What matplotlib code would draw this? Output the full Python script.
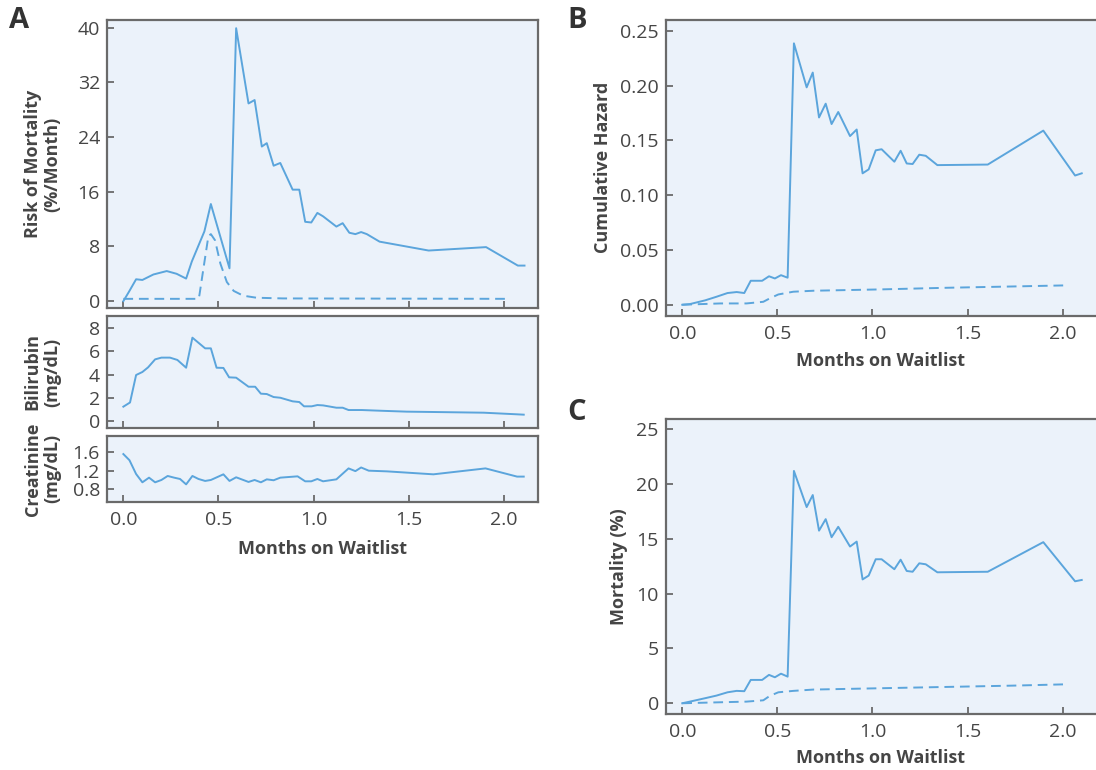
"""Waitlist mortality risk, bilirubin, creatinine, cumulative hazard and mortality."""

import matplotlib

matplotlib.use("Agg")
import matplotlib.pyplot as plt
from matplotlib.ticker import FormatStrFormatter

plt.rcParams["font.family"] = ["Open Sans", "DejaVu Sans"]

LINE = "#5ba5dc"
FACE = "#ebf2fa"
SPINE = "#6a6a6a"
TEXT = "#454545"

# Panel A: risk of mortality (%/month)
risk_x = [0.0, 0.03, 0.067, 0.10, 0.158, 0.228, 0.28, 0.33, 0.36, 0.426, 0.46,
          0.558, 0.593, 0.658, 0.69, 0.728, 0.754, 0.79, 0.825, 0.89, 0.925,
          0.956, 0.988, 1.02, 1.05, 1.12, 1.153, 1.188, 1.22, 1.25, 1.28,
          1.347, 1.605, 1.907, 2.074, 2.109]
risk_y = [0.0, 1.4, 3.2, 3.1, 3.9, 4.4, 4.0, 3.3, 5.8, 10.2, 14.2,
          4.8, 39.9, 28.9, 29.4, 22.6, 23.1, 19.8, 20.2, 16.3, 16.3,
          11.6, 11.5, 12.9, 12.4, 10.9, 11.4, 10.0, 9.8, 10.1, 9.8,
          8.7, 7.4, 7.9, 5.2, 5.2]
risk_ref_x = [0.0, 0.395, 0.40, 0.425, 0.447, 0.46, 0.482, 0.51, 0.544, 0.58,
              0.63, 0.70, 0.84, 2.02]
risk_ref_y = [0.34, 0.34, 0.9, 5.5, 9.5, 9.8, 8.9, 5.5, 2.8, 1.5,
              0.8, 0.5, 0.4, 0.34]

bili_x = [0.0, 0.035, 0.067, 0.10, 0.13, 0.167, 0.20, 0.245, 0.284, 0.33,
          0.363, 0.43, 0.46, 0.49, 0.526, 0.556, 0.593, 0.658, 0.693, 0.723,
          0.754, 0.79, 0.825, 0.89, 0.925, 0.95, 0.99, 1.02, 1.05, 1.12,
          1.153, 1.184, 1.254, 1.35, 1.49, 1.63, 1.895, 2.07, 2.105]
bili_y = [1.24, 1.6, 3.97, 4.23, 4.63, 5.32, 5.47, 5.47, 5.27, 4.6,
          7.19, 6.27, 6.27, 4.6, 4.58, 3.77, 3.74, 2.96, 2.96, 2.36,
          2.33, 2.07, 2.01, 1.70, 1.64, 1.27, 1.27, 1.38, 1.35, 1.15,
          1.15, 0.95, 0.95, 0.89, 0.81, 0.78, 0.72, 0.58, 0.55]

creat_x = [0.0, 0.032, 0.067, 0.10, 0.135, 0.167, 0.20, 0.233, 0.267, 0.298,
           0.33, 0.363, 0.395, 0.43, 0.46, 0.526, 0.558, 0.593, 0.658, 0.69,
           0.723, 0.754, 0.79, 0.825, 0.916, 0.956, 0.988, 1.02, 1.05, 1.12,
           1.184, 1.22, 1.25, 1.29, 1.386, 1.63, 1.904, 2.07, 2.105]
creat_y = [1.564, 1.43, 1.127, 0.945, 1.047, 0.945, 0.996, 1.084, 1.047, 1.018,
           0.90, 1.084, 1.018, 0.975, 0.996, 1.12, 0.975, 1.055, 0.953, 0.996,
           0.945, 1.01, 0.99, 1.047, 1.076, 0.967, 0.967, 1.018, 0.967, 1.01,
           1.25, 1.19, 1.27, 1.2, 1.185, 1.12, 1.25, 1.07, 1.07]

# Panels B and C share time points
bc_x = [0.0, 0.04, 0.12, 0.18, 0.238, 0.286, 0.326, 0.36, 0.42, 0.456,
        0.487, 0.519, 0.554, 0.587, 0.654, 0.686, 0.719, 0.754, 0.785, 0.82,
        0.882, 0.917, 0.948, 0.98, 1.017, 1.048, 1.115, 1.148, 1.18, 1.211,
        1.246, 1.28, 1.341, 1.606, 1.898, 2.065, 2.1]
hazard_y = [0.0, 0.0006, 0.004, 0.0073, 0.0107, 0.0116, 0.0107, 0.0219, 0.0219, 0.026,
            0.024, 0.027, 0.0247, 0.2387, 0.1985, 0.212, 0.171, 0.1836, 0.165, 0.176,
            0.154, 0.160, 0.120, 0.1236, 0.141, 0.142, 0.1306, 0.1406, 0.129, 0.1285,
            0.137, 0.136, 0.1275, 0.128, 0.159, 0.118, 0.120]
mort_y = [0.0, 0.15, 0.46, 0.7, 1.0, 1.13, 1.1, 2.13, 2.13, 2.59,
          2.37, 2.7, 2.43, 21.2, 17.9, 19.0, 15.75, 16.8, 15.15, 16.1,
          14.3, 14.75, 11.3, 11.65, 13.14, 13.14, 12.23, 13.1, 12.07, 12.0,
          12.77, 12.68, 11.95, 12.0, 14.7, 11.13, 11.25]
ref_x = [0.0, 0.2, 0.338, 0.426, 0.46, 0.505, 0.584, 0.69, 1.04, 1.39, 1.74, 2.02]
hazard_ref_y = [0.0, 0.0012, 0.0012, 0.0027, 0.0058, 0.0094, 0.0119, 0.0128,
                0.014, 0.0155, 0.0167, 0.0177]
mort_ref_y = [0.0, 0.09, 0.15, 0.27, 0.67, 1.0, 1.13, 1.25, 1.37, 1.49, 1.61, 1.73]

x_ticks = [0.0, 0.5, 1.0, 1.5, 2.0]

W, H = 1096, 770
DASH = (0, (5, 3))


def px_axes(fig, left, top, right, bottom):
    return fig.add_axes([left / W, 1 - bottom / H, (right - left) / W, (bottom - top) / H])


def style(ax, yticks, ylim, xlim=(-0.086, 2.18), xlabels=True, right=True):
    ax.set_facecolor(FACE)
    for sp in ax.spines.values():
        sp.set_color(SPINE)
        sp.set_linewidth(1.6)
    if not right:
        ax.spines["right"].set_visible(False)
    ax.set_xlim(*xlim)
    ax.set_ylim(*ylim)
    ax.set_xticks(x_ticks)
    ax.set_yticks(yticks)
    ax.xaxis.set_major_formatter(FormatStrFormatter("%.1f"))
    ax.tick_params(direction="in", length=5, width=1.3, color=SPINE,
                   labelsize=14, labelcolor=TEXT, pad=5)
    ax.tick_params(axis="x", pad=6.5)
    if not xlabels:
        ax.tick_params(axis="x", labelbottom=False)


def label_font():
    return dict(fontsize=13, fontweight="bold", color=TEXT)


fig = plt.figure(figsize=(W / 100, H / 100), dpi=100)

# Panel A
ax_risk = px_axes(fig, 107, 20, 538, 308)
ax_risk.plot(risk_x, risk_y, color=LINE, lw=1.4)
ax_risk.plot(risk_ref_x, risk_ref_y, color=LINE, lw=1.4, ls=DASH)
style(ax_risk, [0, 8, 16, 24, 32, 40], (-1.0, 41.1), xlabels=False)
ax_risk.set_ylabel("Risk of Mortality\n(%/Month)", linespacing=1.15, **label_font())
ax_risk.yaxis.set_label_coords(-0.105, 0.5)

ax_bili = px_axes(fig, 107, 316, 538, 428)
ax_bili.plot(bili_x, bili_y, color=LINE, lw=1.4)
style(ax_bili, [0, 2, 4, 6, 8], (-0.6, 9.06), xlabels=False)
ax_bili.set_ylabel("Bilirubin\n(mg/dL)", linespacing=1.15, **label_font())
ax_bili.yaxis.set_label_coords(-0.105, 0.5)

ax_creat = px_axes(fig, 107, 436, 538, 501.7)
ax_creat.plot(creat_x, creat_y, color=LINE, lw=1.4)
style(ax_creat, [0.8, 1.2, 1.6], (0.52, 1.96))
ax_creat.set_ylabel("Creatinine\n(mg/dL)", linespacing=1.15, **label_font())
ax_creat.yaxis.set_label_coords(-0.105, 0.5)
ax_creat.set_xlabel("Months on Waitlist", labelpad=8, **label_font())

# Panel B
ax_haz = px_axes(fig, 665.7, 20, 1096, 315.7)
ax_haz.plot(bc_x, hazard_y, color=LINE, lw=1.4)
ax_haz.plot(ref_x, hazard_ref_y, color=LINE, lw=1.4, ls=DASH)
style(ax_haz, [0, 0.05, 0.10, 0.15, 0.20, 0.25], (-0.01, 0.26),
      xlim=(-0.087, 2.175), right=False)
ax_haz.yaxis.set_major_formatter(FormatStrFormatter("%.2f"))
ax_haz.set_ylabel("Cumulative Hazard", labelpad=6, **label_font())
ax_haz.set_xlabel("Months on Waitlist", labelpad=7, **label_font())

# Panel C
ax_mort = px_axes(fig, 665.7, 419.3, 1096, 714)
ax_mort.plot(bc_x, mort_y, color=LINE, lw=1.4)
ax_mort.plot(ref_x, mort_ref_y, color=LINE, lw=1.4, ls=DASH)
style(ax_mort, [0, 5, 10, 15, 20, 25], (-0.98, 25.91),
      xlim=(-0.087, 2.175), right=False)
ax_mort.set_ylabel("Mortality (%)", labelpad=6, **label_font())
ax_mort.set_xlabel("Months on Waitlist", labelpad=6, **label_font())

for letter, (x, y) in {"A": (9, 6), "B": (567, 6), "C": (567, 398)}.items():
    fig.text(x / W, 1 - y / H, letter, fontsize=21, fontweight="bold",
             color="#333333", va="top", ha="left")

fig.savefig("out.png", dpi=100)
